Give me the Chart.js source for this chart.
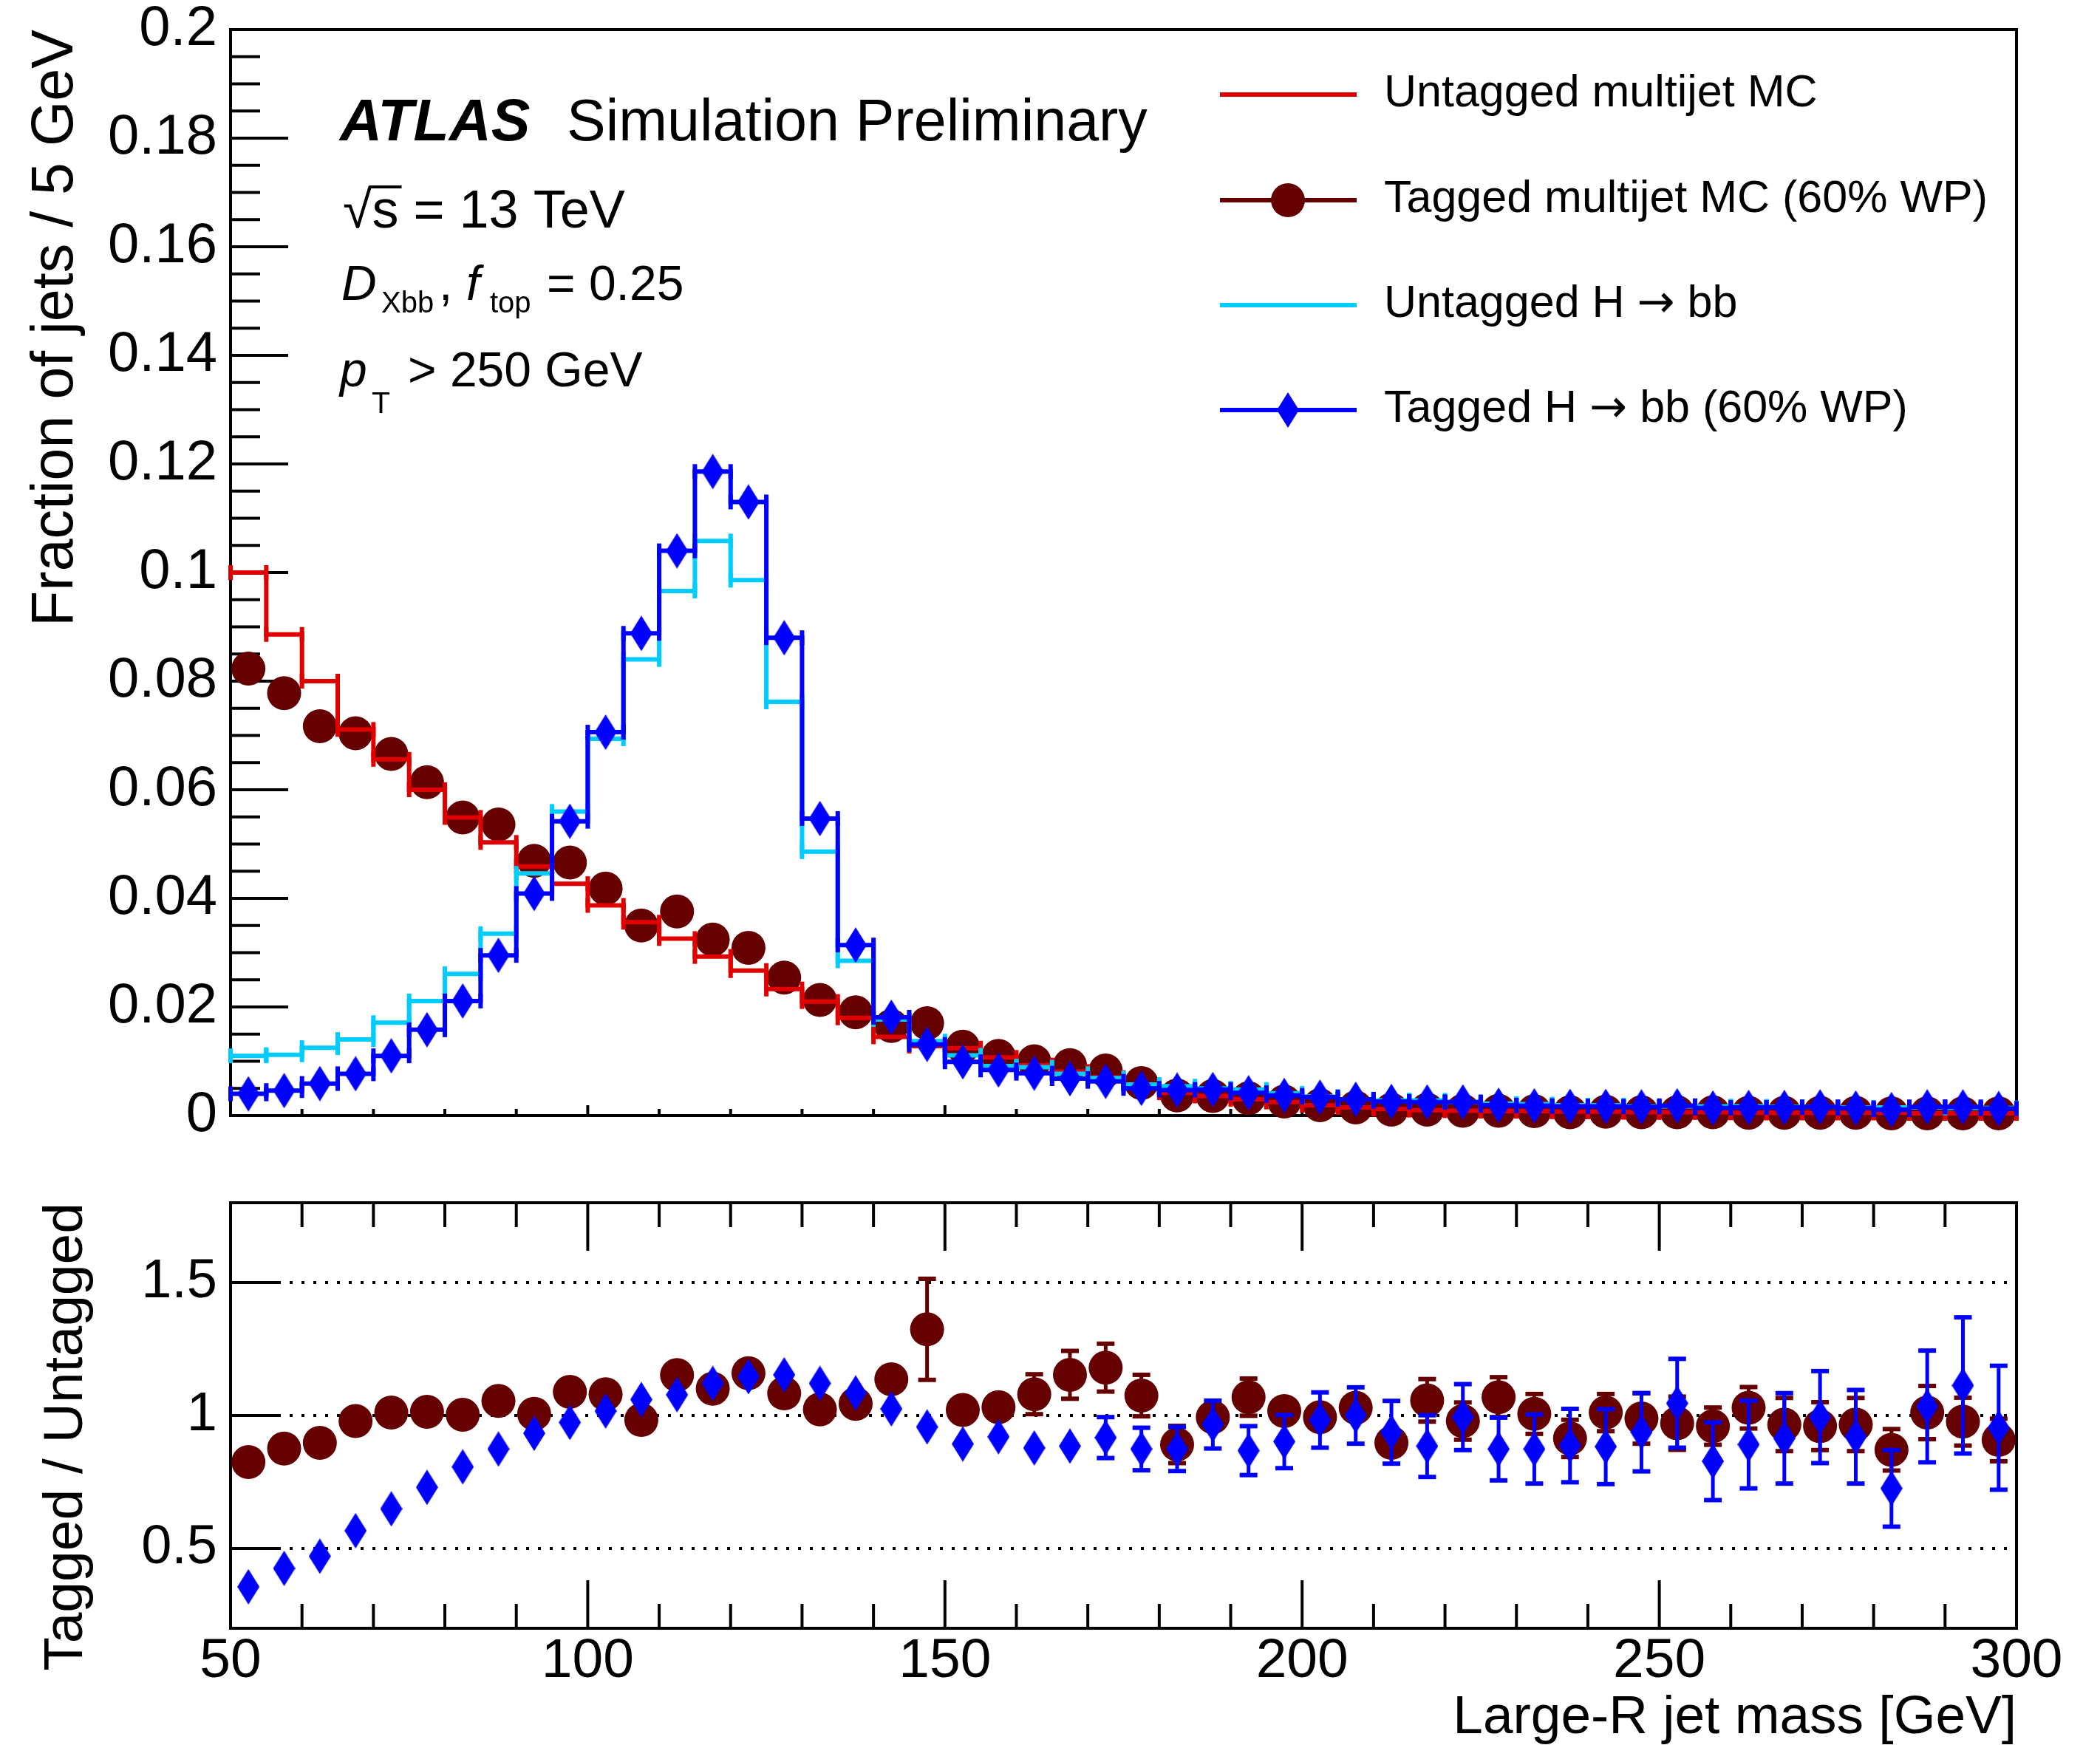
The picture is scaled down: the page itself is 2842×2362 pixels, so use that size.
<!DOCTYPE html>
<html>
<head>
<meta charset="utf-8">
<script src="https://cdn.jsdelivr.net/npm/chart.js@4.4.1/dist/chart.umd.min.js"></script>
<style>
  html, body { margin: 0; padding: 0; background: #ffffff; }
  #wrap { position: relative; width: 2842px; height: 2362px; background: #ffffff; overflow: hidden; }
  #wrap canvas { position: absolute; left: 0; }
  #mainPad { top: 0; }
  #ratioPad { top: 1560px; }
</style>
</head>
<body>
<div id="wrap">
  <canvas id="mainPad" width="2842" height="1560"></canvas>
  <canvas id="ratioPad" width="2842" height="802"></canvas>
</div>
<script>
// ---------------------------------------------------------------
// Large-R jet mass distributions, 5 GeV bins from 50 to 300 GeV
// ---------------------------------------------------------------
const massBinCentres = [
  52.5, 57.5, 62.5, 67.5, 72.5, 77.5, 82.5, 87.5, 92.5, 97.5,
  102.5, 107.5, 112.5, 117.5, 122.5, 127.5, 132.5, 137.5, 142.5, 147.5,
  152.5, 157.5, 162.5, 167.5, 172.5, 177.5, 182.5, 187.5, 192.5, 197.5,
  202.5, 207.5, 212.5, 217.5, 222.5, 227.5, 232.5, 237.5, 242.5, 247.5,
  252.5, 257.5, 262.5, 267.5, 272.5, 277.5, 282.5, 287.5, 292.5, 297.5
];
const binWidth = 5;

// Fraction of jets per bin
const untaggedMultijet = [
  0.1000, 0.0886, 0.0800, 0.0711, 0.0656, 0.0600, 0.0549, 0.0503, 0.0459, 0.0427,
  0.0387, 0.0356, 0.0326, 0.0293, 0.0267, 0.0233, 0.0210, 0.0180, 0.0145, 0.0128,
  0.0124, 0.0107, 0.0093, 0.0081, 0.0070, 0.0056, 0.0042, 0.0036, 0.0030, 0.0025,
  0.0019, 0.0015, 0.0012, 0.0010, 0.0009, 0.0008, 0.0008, 0.0007, 0.0007, 0.0006,
  0.0006, 0.0006, 0.0005, 0.0005, 0.0005, 0.0005, 0.0005, 0.0004, 0.0004, 0.0004
];
const taggedMultijet = [
  0.0823, 0.0778, 0.0717, 0.0704, 0.0666, 0.0614, 0.0549, 0.0536, 0.0469, 0.0466,
  0.0418, 0.0350, 0.0376, 0.0324, 0.0309, 0.0254, 0.0213, 0.0190, 0.0165, 0.0170,
  0.0127, 0.0110, 0.0100, 0.0093, 0.0083, 0.0060, 0.0037, 0.0036, 0.0032, 0.0026,
  0.0019, 0.0015, 0.0011, 0.0011, 0.0009, 0.0009, 0.0008, 0.0006, 0.0007, 0.0006,
  0.0006, 0.0006, 0.0005, 0.0005, 0.0005, 0.0005, 0.0004, 0.0004, 0.0004, 0.0004
];
const untaggedHbb = [
  0.0110, 0.0112, 0.0125, 0.0140, 0.0171, 0.0211, 0.0261, 0.0335, 0.0446, 0.0560,
  0.0694, 0.0840, 0.0966, 0.1058, 0.0986, 0.0762, 0.0486, 0.0285, 0.0177, 0.0137,
  0.0111, 0.0091, 0.0089, 0.0077, 0.0069, 0.0057, 0.0054, 0.0050, 0.0048, 0.0041,
  0.0035, 0.0030, 0.0028, 0.0028, 0.0025, 0.0022, 0.0021, 0.0019, 0.0019, 0.0017,
  0.0017, 0.0017, 0.0017, 0.0016, 0.0016, 0.0015, 0.0015, 0.0015, 0.0014, 0.0014
];
const taggedHbb = [
  0.0040, 0.0046, 0.0059, 0.0077, 0.0110, 0.0158, 0.0211, 0.0295, 0.0409, 0.0542,
  0.0706, 0.0888, 0.1040, 0.1186, 0.1130, 0.0880, 0.0547, 0.0314, 0.0181, 0.0131,
  0.0099, 0.0084, 0.0078, 0.0068, 0.0063, 0.0050, 0.0047, 0.0048, 0.0042, 0.0037,
  0.0034, 0.0030, 0.0026, 0.0025, 0.0025, 0.0019, 0.0018, 0.0017, 0.0017, 0.0016,
  0.0018, 0.0014, 0.0015, 0.0015, 0.0016, 0.0014, 0.0011, 0.0016, 0.0016, 0.0013
];

// Tagged / untagged ratios with statistical uncertainties
const ratioMultijet = [
  0.825, 0.876, 0.897, 0.979, 1.011, 1.014, 1.003, 1.055, 1.006, 1.089,
  1.080, 0.983, 1.152, 1.101, 1.159, 1.083, 1.023, 1.044, 1.136, 1.324,
  1.021, 1.031, 1.080, 1.153, 1.180, 1.075, 0.891, 0.994, 1.069, 1.017,
  0.994, 1.029, 0.897, 1.057, 0.979, 1.069, 1.006, 0.914, 1.011, 0.989,
  0.971, 0.960, 1.029, 0.966, 0.960, 0.966, 0.871, 1.011, 0.977, 0.908
];
const ratioMultijetErr = [
  0.005, 0.005, 0.006, 0.006, 0.007, 0.007, 0.008, 0.008, 0.009, 0.010,
  0.011, 0.012, 0.014, 0.015, 0.017, 0.019, 0.021, 0.025, 0.040, 0.190,
  0.050, 0.050, 0.075, 0.090, 0.090, 0.078, 0.070, 0.060, 0.070, 0.060,
  0.060, 0.060, 0.060, 0.080, 0.070, 0.075, 0.075, 0.070, 0.070, 0.095,
  0.100, 0.070, 0.078, 0.100, 0.090, 0.100, 0.078, 0.100, 0.090, 0.080
];
const ratioHbb = [
  0.356, 0.425, 0.471, 0.567, 0.649, 0.730, 0.807, 0.874, 0.933, 0.974,
  1.017, 1.060, 1.078, 1.121, 1.146, 1.153, 1.121, 1.085, 1.025, 0.957,
  0.893, 0.920, 0.878, 0.885, 0.917, 0.874, 0.874, 0.966, 0.868, 0.902,
  0.983, 1.000, 0.937, 0.885, 0.994, 0.874, 0.874, 0.887, 0.883, 0.937,
  1.046, 0.828, 0.891, 0.914, 0.994, 0.920, 0.726, 1.034, 1.113, 0.954
];
const ratioHbbErr = [
  0.006, 0.006, 0.006, 0.006, 0.006, 0.006, 0.006, 0.006, 0.006, 0.006,
  0.006, 0.006, 0.006, 0.006, 0.006, 0.007, 0.009, 0.012, 0.020, 0.030,
  0.040, 0.050, 0.050, 0.050, 0.077, 0.080, 0.083, 0.090, 0.092, 0.100,
  0.104, 0.106, 0.118, 0.116, 0.124, 0.118, 0.130, 0.138, 0.141, 0.147,
  0.167, 0.146, 0.165, 0.170, 0.173, 0.176, 0.144, 0.210, 0.256, 0.233
];

// Axis tick labels
const fractionTickValues = [0, 0.02, 0.04, 0.06, 0.08, 0.1, 0.12, 0.14, 0.16, 0.18, 0.2];
const ratioTickValues = [0.5, 1, 1.5];
const massTickValues = [50, 100, 150, 200, 250, 300];

// Legend entries: text before the arrow, arrow, text after
const seriesLabels = [
  ['Untagged multijet MC', '', ''],
  ['Tagged multijet MC (60% WP)', '', ''],
  ['Untagged H ', '\u2192', ' bb'],
  ['Tagged H ', '\u2192', ' bb (60% WP)']
];

// ---------------------------------------------------------------
// Styling
// ---------------------------------------------------------------
const FONT = "'Liberation Sans', Arial, Helvetica, sans-serif";
const ARROW_FONT = "'DejaVu Sans', 'Liberation Sans', sans-serif";
const COLOURS = {
  untaggedMultijet: '#e00000',
  taggedMultijet: '#660000',
  untaggedHbb: '#00ccff',
  taggedHbb: '#0000ff'
};
const CIRCLE_R = 23;
const DIAMOND_HW = 15;
const DIAMOND_HH = 24;

Chart.defaults.font.family = FONT;
Chart.defaults.color = '#000000';

function makeDiamond(colour, hw, hh) {
  const c = document.createElement('canvas');
  c.width = hw * 2;
  c.height = hh * 2;
  const g = c.getContext('2d');
  g.fillStyle = colour;
  g.beginPath();
  g.moveTo(hw, 0);
  g.lineTo(hw * 2, hh);
  g.lineTo(hw, hh * 2);
  g.lineTo(0, hh);
  g.closePath();
  g.fill();
  return c;
}
const blueDiamond = makeDiamond(COLOURS.taggedHbb, DIAMOND_HW, DIAMOND_HH);

// Histogram outline: one point per lower bin edge plus the final upper edge
function stepPoints(values) {
  const pts = values.map((v, i) => ({ x: massBinCentres[i] - binWidth / 2, y: v }));
  const last = values.length - 1;
  pts.push({ x: massBinCentres[last] + binWidth / 2, y: values[last] });
  return pts;
}
function markerPoints(values) {
  return values.map((v, i) => ({ x: massBinCentres[i], y: v }));
}

// ---------------------------------------------------------------
// Plugins
// ---------------------------------------------------------------
// Frame, inward tick marks and reference lines in the ROOT style
const framePlugin = {
  id: 'hepFrame',
  beforeDatasetsDraw(chart, args, opts) {
    const { ctx, chartArea: a, scales } = chart;
    const xs = scales.x, ys = scales.y;
    ctx.save();

    if (opts.refLines) {
      ctx.strokeStyle = '#000000';
      ctx.lineWidth = 4;
      ctx.setLineDash([4, 12]);
      opts.refLines.forEach(v => {
        const py = ys.getPixelForValue(v);
        ctx.beginPath();
        ctx.moveTo(a.left, py);
        ctx.lineTo(a.right, py);
        ctx.stroke();
      });
      ctx.setLineDash([]);
    }

    ctx.strokeStyle = '#000000';
    ctx.lineWidth = 4;
    ctx.strokeRect(a.left, a.top, a.right - a.left, a.bottom - a.top);

    if (opts.yMinorStep) {
      for (let v = ys.min; v <= ys.max + 1e-9; v += opts.yMinorStep) {
        const py = ys.getPixelForValue(v);
        ctx.beginPath();
        ctx.moveTo(a.left, py);
        ctx.lineTo(a.left + opts.yMinorLen, py);
        ctx.stroke();
      }
    }
    opts.yMajor.forEach(v => {
      const py = ys.getPixelForValue(v);
      ctx.beginPath();
      ctx.moveTo(a.left, py);
      ctx.lineTo(a.left + opts.yMajorLen, py);
      ctx.stroke();
    });

    for (let v = xs.min; v <= xs.max + 1e-9; v += opts.xMinorStep) {
      const px = xs.getPixelForValue(v);
      const major = Math.abs(v % opts.xMajorStep) < 1e-6;
      const len = major ? opts.xMajorLen : opts.xMinorLen;
      ctx.beginPath();
      ctx.moveTo(px, a.bottom);
      ctx.lineTo(px, a.bottom - len);
      ctx.stroke();
      if (opts.xTop) {
        ctx.beginPath();
        ctx.moveTo(px, a.top);
        ctx.lineTo(px, a.top + len);
        ctx.stroke();
      }
    }
    ctx.restore();
  }
};

// Short perpendicular marks at each bin edge of a histogram outline
const edgeCapPlugin = {
  id: 'edgeCaps',
  afterDatasetDraw(chart, args) {
    const ds = chart.data.datasets[args.index];
    if (!ds.edgeCaps) return;
    const { ctx, scales: { x, y } } = chart;
    ctx.save();
    ctx.strokeStyle = ds.borderColor;
    ctx.lineWidth = ds.borderWidth;
    ds.edgeCaps.forEach((v, i) => {
      const py = y.getPixelForValue(v);
      [massBinCentres[i] - binWidth / 2, massBinCentres[i] + binWidth / 2].forEach(e => {
        const px = x.getPixelForValue(e);
        ctx.beginPath();
        ctx.moveTo(px, py - 10);
        ctx.lineTo(px, py + 10);
        ctx.stroke();
      });
    });
    ctx.restore();
  }
};

// Vertical error bars with end caps, drawn beneath each marker set
const errorBarPlugin = {
  id: 'errorBars',
  beforeDatasetDraw(chart, args) {
    const ds = chart.data.datasets[args.index];
    if (!ds.errors) return;
    const { ctx, scales: { x, y } } = chart;
    ctx.save();
    ctx.strokeStyle = ds.barColour;
    ds.data.forEach((p, i) => {
      const e = ds.errors[i];
      const px = x.getPixelForValue(p.x);
      const py = y.getPixelForValue(p.y);
      const top = y.getPixelForValue(p.y + e);
      const bot = y.getPixelForValue(p.y - e);
      if (py - top <= ds.markerHalfHeight) return;
      ctx.lineWidth = 5;
      ctx.beginPath();
      ctx.moveTo(px, top);
      ctx.lineTo(px, bot);
      ctx.stroke();
      ctx.lineWidth = 6;
      [top, bot].forEach(cy => {
        ctx.beginPath();
        ctx.moveTo(px - 12, cy);
        ctx.lineTo(px + 12, cy);
        ctx.stroke();
      });
    });
    ctx.restore();
  }
};

// Experiment label, conditions and legend in the main pad
const labelPlugin = {
  id: 'atlasLabels',
  afterDraw(chart) {
    const ctx = chart.ctx;
    ctx.save();
    ctx.fillStyle = '#000000';
    ctx.textBaseline = 'alphabetic';
    ctx.textAlign = 'left';

    ctx.font = `italic bold 79px ${FONT}`;
    ctx.fillText('ATLAS', 460, 190);
    ctx.font = `79px ${FONT}`;
    ctx.fillText('Simulation Preliminary', 767, 190);

    // sqrt(s) = 13 TeV
    ctx.font = `72px ${FONT}`;
    const base1 = 308;
    ctx.fillText('\u221A', 464, base1);
    const rad = ctx.measureText('\u221A');
    const sX = 464 + rad.width;
    ctx.fillText('s', sX, base1);
    const sW = ctx.measureText('s').width;
    ctx.strokeStyle = '#000000';
    ctx.lineWidth = 4;
    const barY = base1 - rad.actualBoundingBoxAscent + 2;
    ctx.beginPath();
    ctx.moveTo(sX - 3, barY);
    ctx.lineTo(sX + sW + 4, barY);
    ctx.stroke();
    ctx.fillText(' = 13 TeV', sX + sW, base1);

    // D_Xbb, f_top = 0.25
    const base2 = 406;
    ctx.font = `italic 66px ${FONT}`;
    ctx.fillText('D', 462, base2);
    ctx.font = `40px ${FONT}`;
    ctx.fillText('Xbb', 516, base2 + 17);
    ctx.font = `66px ${FONT}`;
    ctx.fillText(',', 594, base2);
    ctx.font = `italic 66px ${FONT}`;
    ctx.fillText('f', 631, base2);
    ctx.font = `40px ${FONT}`;
    ctx.fillText('top', 663, base2 + 17);
    ctx.font = `66px ${FONT}`;
    ctx.fillText('= 0.25', 740, base2);

    // p_T > 250 GeV
    const base3 = 523;
    ctx.font = `italic 66px ${FONT}`;
    ctx.fillText('p', 460, base3);
    ctx.font = `41px ${FONT}`;
    ctx.fillText('T', 503, base3 + 36);
    ctx.font = `66px ${FONT}`;
    ctx.fillText('> 250 GeV', 552, base3);

    // legend
    const rows = [128, 271, 413, 555];
    const styles = [
      { colour: COLOURS.untaggedMultijet, marker: null },
      { colour: COLOURS.taggedMultijet, marker: 'circle' },
      { colour: COLOURS.untaggedHbb, marker: null },
      { colour: COLOURS.taggedHbb, marker: 'diamond' }
    ];
    rows.forEach((ry, i) => {
      const st = styles[i];
      ctx.strokeStyle = st.colour;
      ctx.lineWidth = 6;
      ctx.beginPath();
      ctx.moveTo(1651, ry);
      ctx.lineTo(1836, ry);
      ctx.stroke();
      if (st.marker === 'circle') {
        ctx.fillStyle = st.colour;
        ctx.beginPath();
        ctx.arc(1743, ry, CIRCLE_R, 0, Math.PI * 2);
        ctx.fill();
      } else if (st.marker === 'diamond') {
        ctx.drawImage(blueDiamond, 1743 - DIAMOND_HW, ry - DIAMOND_HH);
      }
      ctx.fillStyle = '#000000';
      const [pre, arrow, post] = seriesLabels[i];
      let tx = 1873;
      ctx.font = `61px ${FONT}`;
      ctx.fillText(pre, tx, ry + 16);
      tx += ctx.measureText(pre).width;
      if (arrow) {
        ctx.font = `61px ${ARROW_FONT}`;
        ctx.fillText(arrow, tx, ry + 16);
        tx += ctx.measureText(arrow).width;
        ctx.font = `61px ${FONT}`;
        ctx.fillText(post, tx, ry + 16);
      }
    });
    ctx.restore();
  }
};

function fmt(v) { return String(+(+v).toFixed(3)); }

// ---------------------------------------------------------------
// Main pad: normalised mass distributions
// ---------------------------------------------------------------
new Chart(document.getElementById('mainPad'), {
  type: 'line',
  data: {
    datasets: [
      {
        label: 'Tagged H \u2192 bb (60% WP) markers',
        data: markerPoints(taggedHbb),
        showLine: false,
        pointStyle: blueDiamond,
        pointRadius: DIAMOND_HH,
        pointBackgroundColor: COLOURS.taggedHbb,
        pointBorderWidth: 0,
        clip: false,
        order: 0
      },
      {
        label: 'Tagged H \u2192 bb (60% WP)',
        data: stepPoints(taggedHbb),
        stepped: true,
        borderColor: COLOURS.taggedHbb,
        borderWidth: 6,
        pointRadius: 0,
        fill: false,
        edgeCaps: taggedHbb,
        order: 1
      },
      {
        label: 'Untagged H \u2192 bb',
        data: stepPoints(untaggedHbb),
        stepped: true,
        borderColor: COLOURS.untaggedHbb,
        borderWidth: 6,
        pointRadius: 0,
        fill: false,
        edgeCaps: untaggedHbb,
        order: 2
      },
      {
        label: 'Untagged multijet MC',
        data: stepPoints(untaggedMultijet),
        stepped: true,
        borderColor: COLOURS.untaggedMultijet,
        borderWidth: 6,
        pointRadius: 0,
        fill: false,
        edgeCaps: untaggedMultijet,
        order: 3
      },
      {
        label: 'Tagged multijet MC (60% WP)',
        data: markerPoints(taggedMultijet),
        showLine: false,
        pointStyle: 'circle',
        pointRadius: CIRCLE_R,
        pointBackgroundColor: COLOURS.taggedMultijet,
        pointBorderWidth: 0,
        clip: false,
        order: 4
      }
    ]
  },
  options: {
    responsive: false,
    animation: false,
    devicePixelRatio: 1,
    events: [],
    layout: { padding: { left: 0, right: 113, top: 40, bottom: 50 } },
    plugins: {
      legend: { display: false },
      tooltip: { enabled: false },
      hepFrame: {
        yMajor: fractionTickValues, yMajorLen: 78,
        yMinorStep: 0.005, yMinorLen: 40,
        xMinorStep: 10, xMajorStep: 50, xMajorLen: 14, xMinorLen: 9,
        xTop: false
      }
    },
    scales: {
      x: {
        type: 'linear', min: 50, max: 300,
        display: false
      },
      y: {
        type: 'linear', min: 0, max: 0.2,
        grid: { display: false, drawTicks: false },
        border: { display: false },
        afterBuildTicks: s => { s.ticks = fractionTickValues.map(v => ({ value: v })); },
        afterFit: s => { s.width = 312; },
        ticks: {
          autoSkip: false,
          padding: 18,
          color: '#000000',
          font: { size: 76, family: FONT, lineHeight: 0.4 },
          callback: v => fmt(v)
        },
        title: {
          display: true,
          text: 'Fraction of jets / 5 GeV',
          align: 'end',
          color: '#000000',
          font: { size: 79, family: FONT, lineHeight: 1.2 },
          padding: { top: 29, bottom: 0 }
        }
      }
    }
  },
  plugins: [framePlugin, edgeCapPlugin, labelPlugin]
});

// ---------------------------------------------------------------
// Ratio pad: tagged / untagged
// ---------------------------------------------------------------
new Chart(document.getElementById('ratioPad'), {
  type: 'scatter',
  data: {
    datasets: [
      {
        label: 'Tagged H \u2192 bb (60% WP)',
        data: markerPoints(ratioHbb),
        errors: ratioHbbErr,
        barColour: COLOURS.taggedHbb,
        markerHalfHeight: DIAMOND_HH,
        pointStyle: blueDiamond,
        pointRadius: DIAMOND_HH,
        pointBackgroundColor: COLOURS.taggedHbb,
        pointBorderWidth: 0,
        clip: false,
        order: 0
      },
      {
        label: 'Tagged multijet MC (60% WP)',
        data: markerPoints(ratioMultijet),
        errors: ratioMultijetErr,
        barColour: COLOURS.taggedMultijet,
        markerHalfHeight: CIRCLE_R,
        pointStyle: 'circle',
        pointRadius: CIRCLE_R,
        pointBackgroundColor: COLOURS.taggedMultijet,
        pointBorderWidth: 0,
        clip: false,
        order: 1
      }
    ]
  },
  options: {
    responsive: false,
    animation: false,
    devicePixelRatio: 1,
    events: [],
    layout: { padding: { left: 0, right: 113, top: 68, bottom: 0 } },
    plugins: {
      legend: { display: false },
      tooltip: { enabled: false },
      hepFrame: {
        refLines: ratioTickValues,
        yMajor: ratioTickValues, yMajorLen: 65,
        yMinorStep: 0,
        xMinorStep: 10, xMajorStep: 50, xMajorLen: 65, xMinorLen: 33,
        xTop: true
      }
    },
    scales: {
      x: {
        type: 'linear', min: 50, max: 300,
        grid: { display: false, drawTicks: false },
        border: { display: false },
        afterBuildTicks: s => { s.ticks = massTickValues.map(v => ({ value: v })); },
        afterFit: s => { s.height = 158; },
        ticks: {
          autoSkip: false,
          maxRotation: 0,
          padding: 0,
          color: '#000000',
          font: { size: 75, family: FONT, lineHeight: 1.2 },
          callback: v => fmt(v)
        },
        title: {
          display: true,
          text: 'Large-R jet mass [GeV]',
          align: 'end',
          color: '#000000',
          font: { size: 73, family: FONT, lineHeight: 1.0 },
          padding: { top: 0, bottom: 0 }
        }
      },
      y: {
        type: 'linear', min: 0.2, max: 1.8,
        grid: { display: false, drawTicks: false },
        border: { display: false },
        afterBuildTicks: s => { s.ticks = ratioTickValues.map(v => ({ value: v })); },
        afterFit: s => { s.width = 312; },
        ticks: {
          autoSkip: false,
          padding: 18,
          color: '#000000',
          font: { size: 74, family: FONT, lineHeight: 0.4 },
          callback: v => fmt(v)
        },
        title: {
          display: true,
          text: 'Tagged / Untagged',
          align: 'end',
          color: '#000000',
          font: { size: 75, family: FONT, lineHeight: 1.2 },
          padding: { top: 45, bottom: 0 }
        }
      }
    }
  },
  plugins: [framePlugin, errorBarPlugin]
});
</script>
</body>
</html>
